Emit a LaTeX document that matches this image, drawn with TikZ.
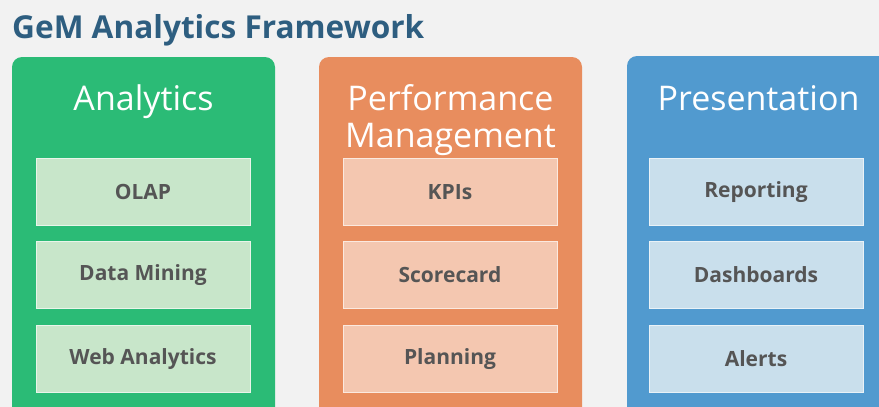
\documentclass[tikz,border=0pt]{standalone}
\usepackage{fontspec}
\setmainfont{Open Sans}
\definecolor{bg}{HTML}{F2F2F2}
\definecolor{titlec}{HTML}{2E5E80}
\definecolor{gdark}{HTML}{2BBB76}
\definecolor{glight}{HTML}{C8E6CA}
\definecolor{odark}{HTML}{E88D5E}
\definecolor{olight}{HTML}{F4C7B0}
\definecolor{bdark}{HTML}{519ACF}
\definecolor{blight}{HTML}{C9DFEC}
\definecolor{itemtext}{HTML}{555555}
\begin{document}
\begin{tikzpicture}[x=1pt,y=-1pt,
  panel/.style={rounded corners=10pt, draw=none},
  item/.style={draw=white!60!#1, line width=0.8pt, fill=#1, minimum width=214pt, minimum height=67pt, inner sep=0pt, font=\fontsize{21}{23}\selectfont\bfseries, text=itemtext},
  head/.style={text=white, font=\fontsize{34}{37}\selectfont, align=center}]
\fill[bg] (0,0) rectangle (879,407);
\useasboundingbox (0,0) rectangle (879,407);
\node[anchor=base west, text=titlec, font=\fontsize{31.6}{34}\selectfont\bfseries, inner sep=0pt] (title) at (12,38) {GeM Analytics Framework};
% panels
\fill[gdark, panel] (12,57) rectangle (275,418);
\fill[odark, panel] (319,57) rectangle (582,418);
\fill[bdark, panel] (627,56) rectangle (890,418);
% headers
\node[head, anchor=base] (h1) at (143.5,110) {Analytics};
\node[head, anchor=base] (h2) at (450.5,110) {Performance};
\node[head, anchor=base] (h2b) at (450.5,147) {Management};
\node[head, anchor=base] (h3) at (758.5,110) {Presentation};
% items
\node[item=glight] (a1) at (143,192) {OLAP};
\node[item=glight] (a2) at (143,275) {Data Mining};
\node[item=glight] (a3) at (143,359) {Web Analytics};
\node[item=olight] (p1) at (450,192) {KPIs};
\node[item=olight] (p2) at (450,275) {Scorecard};
\node[item=olight] (p3) at (450,359) {Planning};
\node[item=blight] (b1) at (756,192) {Reporting};
\node[item=blight] (b2) at (756,275) {Dashboards};
\node[item=blight] (b3) at (756,359) {Alerts};
\end{tikzpicture}
\end{document}
